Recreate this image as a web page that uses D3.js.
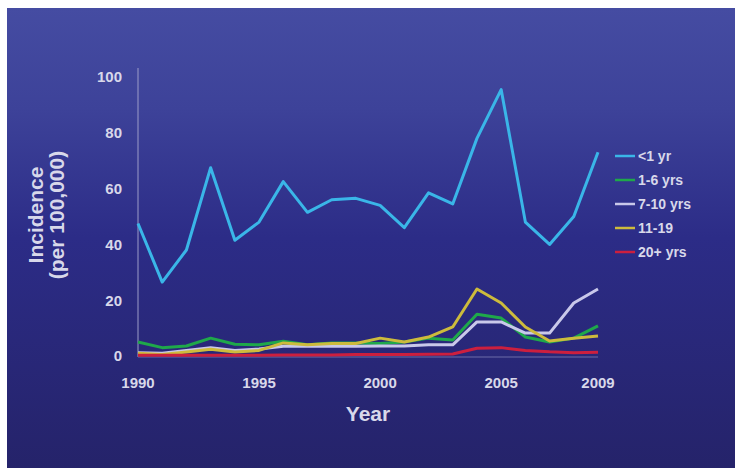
<!DOCTYPE html>
<html>
<head>
<meta charset="utf-8">
<script src="https://cdn.jsdelivr.net/npm/d3@7"></script>
<style>
  body { margin: 0; background: #fff; }
  text { font-family: "Liberation Sans", Arial, sans-serif; font-weight: bold; fill: #d8d8ea; }
</style>
</head>
<body>
<script>
var width = 735;
var height = 468;

// data
var years = [1990, 1991, 1992, 1993, 1994, 1995, 1996, 1997, 1998, 1999,
             2000, 2001, 2002, 2003, 2004, 2005, 2006, 2007, 2008, 2009];
var under1 = [47.5, 26.5, 38, 67.5, 41.5, 48, 62.5, 51.5, 56, 56.5,
              54, 46, 58.5, 54.5, 78, 95.5, 48, 40, 50, 73];
var age1to6 = [5, 3, 3.6, 6.4, 4.2, 4, 5.3, 4, 4.7, 4.7,
               4.5, 5, 6.4, 5.7, 15, 13.6, 6.8, 5, 6.4, 10.8];
var age7to10 = [1.2, 1, 2, 3, 2, 2.5, 3.5, 3.5, 3.5, 3.5,
                3.6, 3.6, 4, 4, 12.2, 12.2, 8.2, 8.2, 19, 24];
var age11to19 = [1, 0.5, 1.4, 2.4, 1.4, 2, 4.7, 4, 4.5, 4.5,
                 6.4, 5, 6.8, 10.4, 24, 19, 10.4, 5.4, 6.4, 7.2];
var age20plus = [0.3, 0.3, 0.3, 0.3, 0.3, 0.3, 0.4, 0.4, 0.4, 0.5,
                 0.5, 0.5, 0.6, 0.7, 2.8, 3, 2, 1.5, 1.2, 1.3];

var seriesNames = ["<1 yr", "1-6 yrs", "7-10 yrs", "11-19", "20+ yrs"];
var seriesColors = ["#3ab6e8", "#1fa84a", "#c9c8ea", "#cdbb3c", "#cc1f3e"];
var seriesValues = [under1, age1to6, age7to10, age11to19, age20plus];

var yTicks = [0, 20, 40, 60, 80, 100];
var xTicks = [1990, 1995, 2000, 2005, 2009];

var svg = d3.select("body").append("svg").attr("width", width).attr("height", height);

// background gradient
var grad = svg.append("defs").append("linearGradient").attr("id", "bg")
  .attr("x1", 0).attr("y1", 0).attr("x2", 0).attr("y2", 1);
grad.append("stop").attr("offset", "0%").attr("stop-color", "#454ca2");
grad.append("stop").attr("offset", "22%").attr("stop-color", "#3d4299");
grad.append("stop").attr("offset", "50%").attr("stop-color", "#2c2c87");
grad.append("stop").attr("offset", "100%").attr("stop-color", "#25236a");
svg.append("rect").attr("x", 7).attr("y", 8).attr("width", width - 7).attr("height", height - 8)
  .attr("fill", "url(#bg)");

var x = d3.scaleLinear().domain([1990, 2009]).range([138, 598]);
var y = d3.scaleLinear().domain([0, 100]).range([356, 77]);

// axes lines
svg.append("line").attr("x1", 138).attr("x2", 138).attr("y1", 68).attr("y2", y(0) + 1)
  .attr("stroke", "#9c9cc8").attr("stroke-width", 1);
svg.append("line").attr("x1", 138).attr("x2", x(2009)).attr("y1", y(0) + 1).attr("y2", y(0) + 1)
  .attr("stroke", "#6c6ca8").attr("stroke-width", 1.2);

// y tick labels
svg.selectAll(".ytick").data(yTicks).enter().append("text")
  .attr("x", 122).attr("y", d => y(d)).attr("dy", "0.36em")
  .attr("text-anchor", "end").style("font-size", "15px")
  .text(d => d);

// x tick labels
svg.selectAll(".xtick").data(xTicks).enter().append("text")
  .attr("x", d => x(d)).attr("y", 388)
  .attr("text-anchor", "middle").style("font-size", "15px")
  .text(d => d);

// axis titles
svg.append("text").attr("x", x(1999.5)).attr("y", 421).attr("text-anchor", "middle")
  .style("font-size", "21px").text("Year");
var yt = svg.append("text").attr("transform", "translate(0,215) rotate(-90)")
  .attr("text-anchor", "middle").style("font-size", "21px");
yt.append("tspan").attr("x", 0).attr("y", 43).text("Incidence");
yt.append("tspan").attr("x", 0).attr("y", 64).text("(per 100,000)");

// lines
var line = d3.line().x((d, i) => x(years[i])).y(d => y(d));
svg.selectAll(".series").data(seriesValues).enter().append("path")
  .attr("d", d => line(d))
  .attr("fill", "none")
  .attr("stroke", (d, i) => seriesColors[i])
  .attr("stroke-width", 3)
  .attr("stroke-linejoin", "round");

// legend
var legend = svg.selectAll(".legend").data(seriesNames).enter().append("g")
  .attr("transform", (d, i) => "translate(615," + (156 + i * 24) + ")");
legend.append("line").attr("x1", 0).attr("x2", 20).attr("y1", 0).attr("y2", 0)
  .attr("stroke", (d, i) => seriesColors[i]).attr("stroke-width", 2.5);
legend.append("text").attr("x", 23).attr("dy", "0.36em").style("font-size", "14px")
  .text(d => d);
</script>
</body>
</html>
